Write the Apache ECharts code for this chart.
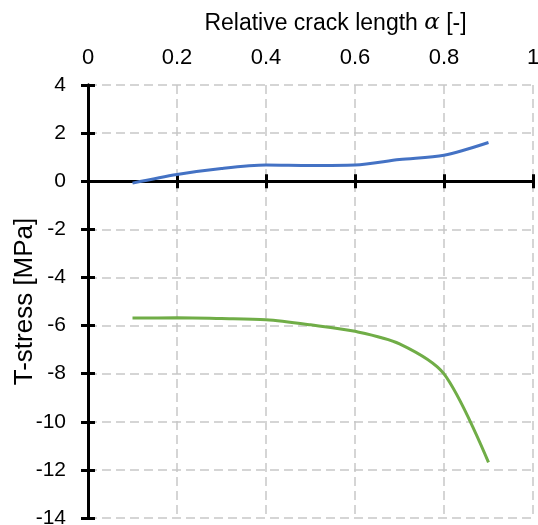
<!DOCTYPE html>
<html>
<head>
<meta charset="utf-8">
<script src="https://cdn.jsdelivr.net/npm/echarts@6/dist/echarts.min.js"></script>
<style>
  html, body { margin: 0; padding: 0; background: #fff; }
  #chart { width: 538px; height: 525px; }
</style>
</head>
<body>
<div id="chart"></div>
<script>
var alphaValues = [0.1, 0.2, 0.3, 0.4, 0.5, 0.6, 0.7, 0.8, 0.9];
var blueValues = [-0.08, 0.28, 0.53, 0.67, 0.65, 0.67, 0.9, 1.08, 1.61];
var greenValues = [-5.69, -5.68, -5.71, -5.76, -5.97, -6.24, -6.76, -8.01, -11.69];

var font = 'Liberation Sans, Arial, sans-serif';

function pairs(xs, ys) {
    var out = [];
    for (var i = 0; i < xs.length; i++) out.push([xs[i], ys[i]]);
    return out;
}

var dashed = { show: true, lineStyle: { color: '#c8c8c8', width: 1.5, type: [9, 5] } };

// axis at zero carrying the crossing ticks
function zeroAxis(inside) {
    return {
        type: 'value', min: 0, max: 1, interval: 0.2, position: 'bottom',
        axisLine: { show: true, onZero: true, onZeroAxisIndex: 0, lineStyle: { color: '#000', width: 3 } },
        axisTick: { show: true, inside: inside, length: 7, lineStyle: { color: '#000', width: 3 } },
        axisLabel: { show: false },
        splitLine: { show: false }
    };
}
function leftAxis(inside, main) {
    return {
        type: 'value', min: -14, max: 4, interval: 2, position: 'left',
        name: main ? 'T-stress [MPa]' : '',
        nameLocation: 'middle', nameGap: 50, nameMoveOverlap: false,
        nameTextStyle: { fontFamily: font, fontSize: 26, color: '#000' },
        axisLine: { show: true, onZero: false, lineStyle: { color: '#000', width: 3 } },
        axisTick: { show: true, inside: inside, length: 7, lineStyle: { color: '#000', width: 3 } },
        axisLabel: { show: main, margin: 22, fontFamily: font, fontSize: 21, color: '#000' },
        splitLine: main ? dashed : { show: false }
    };
}

var chart = echarts.init(document.getElementById('chart'));
chart.setOption({
    animation: false,
    grid: { left: 88, right: 5, top: 85, bottom: 7, containLabel: false, outerBoundsMode: 'none' },
    xAxis: [
        {
            type: 'value', min: 0, max: 1, interval: 0.2, position: 'top',
            name: '{t|Relative crack length }{a|α}{t| [-]}',
            nameLocation: 'middle', nameGap: 50,
            nameTextStyle: {
                padding: [0, 0, 0, 50],
                rich: {
                    t: { fontFamily: font, fontSize: 23, color: '#000' },
                    a: { fontFamily: 'DejaVu Serif, serif', fontStyle: 'italic', fontSize: 23, color: '#000' }
                }
            },
            axisLine: { show: false, onZero: false },
            axisTick: { show: false },
            axisLabel: { margin: 16, fontFamily: font, fontSize: 22, color: '#000' },
            splitLine: dashed
        },
        zeroAxis(true),
        zeroAxis(false)
    ],
    yAxis: [leftAxis(false, true), leftAxis(true, false)],
    series: [
        {
            type: 'line', data: pairs(alphaValues, blueValues), smooth: 0.3,
            showSymbol: false, lineStyle: { color: '#4472c4', width: 3 }, z: 5
        },
        {
            type: 'line', data: pairs(alphaValues, greenValues), smooth: 0.3,
            showSymbol: false, lineStyle: { color: '#70ad47', width: 3 }, z: 5
        }
    ]
});
</script>
</body>
</html>
